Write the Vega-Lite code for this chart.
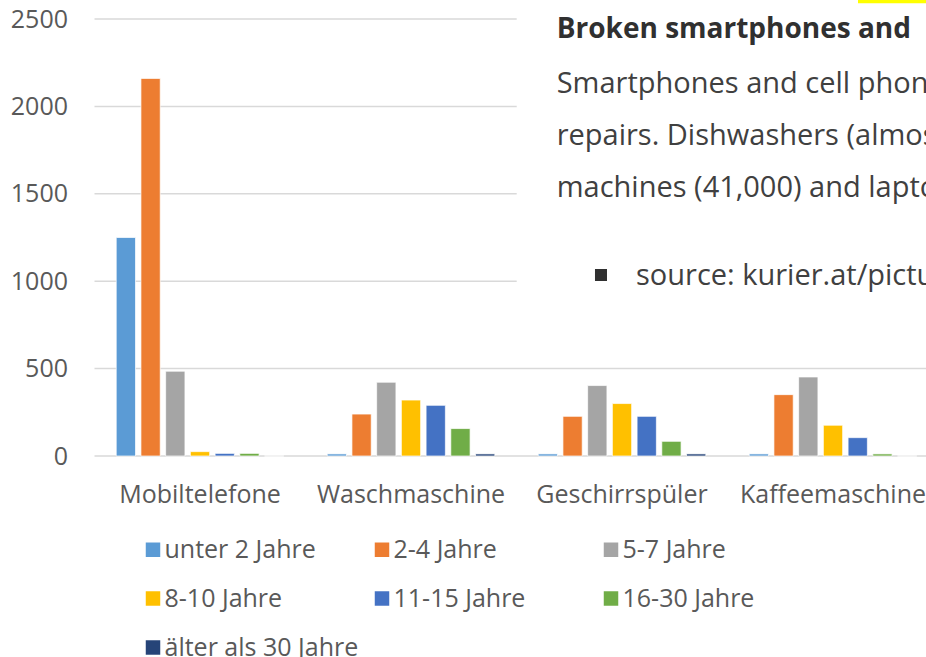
{
  "$schema": "https://vega.github.io/schema/vega-lite/v6.json",
  "width": 831.5,
  "height": 437,
  "autosize": {"type": "none"},
  "padding": {"left": 94.5, "top": 19, "right": 0, "bottom": 201},
  "background": "#ffffff",
  "config": {
    "view": {"stroke": null},
    "font": "Open Sans",
    "axis": {"labelFont": "Open Sans", "labelColor": "#595959", "labelFontSize": 25, "labelLimit": 400},
    "legend": {"labelFont": "Open Sans", "labelColor": "#595959", "labelFontSize": 25, "labelLimit": 400}
  },
  "datasets": {
    "bars": [
      {"category": "Mobiltelefone", "age": "unter 2 Jahre", "count": 1250},
      {"category": "Mobiltelefone", "age": "2-4 Jahre", "count": 2160},
      {"category": "Mobiltelefone", "age": "5-7 Jahre", "count": 485},
      {"category": "Mobiltelefone", "age": "8-10 Jahre", "count": 25},
      {"category": "Mobiltelefone", "age": "11-15 Jahre", "count": 15},
      {"category": "Mobiltelefone", "age": "16-30 Jahre", "count": 15},
      {"category": "Mobiltelefone", "age": "älter als 30 Jahre", "count": 0},
      {"category": "Waschmaschine", "age": "unter 2 Jahre", "count": 12},
      {"category": "Waschmaschine", "age": "2-4 Jahre", "count": 240},
      {"category": "Waschmaschine", "age": "5-7 Jahre", "count": 422},
      {"category": "Waschmaschine", "age": "8-10 Jahre", "count": 320},
      {"category": "Waschmaschine", "age": "11-15 Jahre", "count": 290},
      {"category": "Waschmaschine", "age": "16-30 Jahre", "count": 157},
      {"category": "Waschmaschine", "age": "älter als 30 Jahre", "count": 12},
      {"category": "Geschirrspüler", "age": "unter 2 Jahre", "count": 12},
      {"category": "Geschirrspüler", "age": "2-4 Jahre", "count": 227},
      {"category": "Geschirrspüler", "age": "5-7 Jahre", "count": 403},
      {"category": "Geschirrspüler", "age": "8-10 Jahre", "count": 300},
      {"category": "Geschirrspüler", "age": "11-15 Jahre", "count": 227},
      {"category": "Geschirrspüler", "age": "16-30 Jahre", "count": 84},
      {"category": "Geschirrspüler", "age": "älter als 30 Jahre", "count": 12},
      {"category": "Kaffeemaschine", "age": "unter 2 Jahre", "count": 12},
      {"category": "Kaffeemaschine", "age": "2-4 Jahre", "count": 351},
      {"category": "Kaffeemaschine", "age": "5-7 Jahre", "count": 452},
      {"category": "Kaffeemaschine", "age": "8-10 Jahre", "count": 176},
      {"category": "Kaffeemaschine", "age": "11-15 Jahre", "count": 105},
      {"category": "Kaffeemaschine", "age": "16-30 Jahre", "count": 12},
      {"category": "Kaffeemaschine", "age": "älter als 30 Jahre", "count": 0}
    ],
    "grid": [
      {"value": 0, "from": 0, "to": 3.9408},
      {"value": 500, "from": 0, "to": 3.9408},
      {"value": 1000, "from": 0, "to": 2.001},
      {"value": 1500, "from": 0, "to": 2.001},
      {"value": 2000, "from": 0, "to": 2.001},
      {"value": 2500, "from": 0, "to": 2.001}
    ],
    "title": [
      {"text": "Broken smartphones and", "xpos": 2.1905, "ypos": 2390}
    ],
    "notes": [
      {"text": "Smartphones and cell phon", "xpos": 2.1905, "ypos": 2078},
      {"text": "repairs. Dishwashers (almos", "xpos": 2.1905, "ypos": 1779},
      {"text": "machines (41,000) and lapto", "xpos": 2.1905, "ypos": 1483},
      {"text": "source: kurier.at/pictu", "xpos": 2.5664, "ypos": 978}
    ],
    "boxes": [
      {"x1": 2.372, "x2": 2.4289, "y1": 1001, "y2": 1070, "fillc": "#303030"},
      {"x1": 3.6185, "x2": 3.9408, "y1": 2590, "y2": 2609, "fillc": "#ffff00"}
    ]
  },
  "resolve": {"scale": {"x": "independent"}},
  "layer": [
    {
      "data": {"name": "grid"},
      "mark": {"type": "rule", "color": "#d9d9d9", "strokeWidth": 1.5},
      "encoding": {
        "x": {"field": "from", "type": "quantitative", "scale": {"domain": [0, 3.9408], "nice": false, "zero": false}, "axis": null},
        "x2": {"field": "to"},
        "y": {
          "field": "value", "type": "quantitative",
          "scale": {"domain": [0, 2500], "nice": false},
          "axis": {"title": null, "domain": false, "ticks": false, "grid": false, "format": "d", "values": [0, 500, 1000, 1500, 2000, 2500], "labelPadding": 27, "labelFontSize": 25}
        }
      }
    },
    {
      "data": {"name": "bars"},
      "mark": {"type": "bar", "stroke": "#ffffff", "strokeWidth": 1, "strokeOpacity": 0.7},
      "encoding": {
        "x": {
          "field": "category", "type": "nominal",
          "sort": ["Mobiltelefone", "Waschmaschine", "Geschirrspüler", "Kaffeemaschine"],
          "scale": {"paddingInner": 0.18, "paddingOuter": 0.0604, "align": 0.7457},
          "axis": {"title": null, "domain": false, "ticks": false, "labelAngle": 0, "labelBaseline": "alphabetic", "labelPadding": 46, "labelFontSize": 25, "labelLimit": 400}
        },
        "xOffset": {
          "field": "age", "type": "nominal",
          "sort": ["unter 2 Jahre", "2-4 Jahre", "5-7 Jahre", "8-10 Jahre", "11-15 Jahre", "16-30 Jahre", "älter als 30 Jahre"],
          "scale": {"paddingInner": 0.22, "paddingOuter": 0.11}
        },
        "y": {
          "field": "count", "type": "quantitative",
          "scale": {"domain": [0, 2500], "nice": false},
          "axis": {"title": null, "domain": false, "ticks": false, "grid": false, "format": "d", "values": [0, 500, 1000, 1500, 2000, 2500], "labelPadding": 27, "labelFontSize": 25}
        },
        "color": {
          "field": "age", "type": "nominal",
          "scale": {
            "domain": ["unter 2 Jahre", "2-4 Jahre", "5-7 Jahre", "8-10 Jahre", "11-15 Jahre", "16-30 Jahre", "älter als 30 Jahre"],
            "range": ["#5B9BD5", "#ED7D31", "#A5A5A5", "#FFC000", "#4472C4", "#70AD47", "#264478"]
          },
          "legend": {
            "title": null, "orient": "none", "legendX": 46, "legendY": 518, "direction": "horizontal",
            "columns": 3, "gridAlign": "all", "columnPadding": 11, "rowPadding": 23,
            "symbolType": "square", "symbolSize": 210, "symbolStrokeWidth": 0, "symbolOpacity": 1,
            "labelOffset": -1, "labelFontSize": 25, "labelLimit": 400, "padding": 0
          }
        }
      }
    },
    {
      "data": {"name": "boxes"},
      "mark": {"type": "rect"},
      "encoding": {
        "x": {"field": "x1", "type": "quantitative", "scale": {"domain": [0, 3.9408], "nice": false, "zero": false}, "axis": null},
        "x2": {"field": "x2"},
        "y": {"field": "y1", "type": "quantitative", "scale": {"domain": [0, 2500], "nice": false}},
        "y2": {"field": "y2"},
        "fill": {"field": "fillc", "type": "nominal", "scale": null}
      }
    },
    {
      "data": {"name": "title"},
      "mark": {"type": "text", "align": "left", "baseline": "alphabetic", "fontSize": 28, "font": "Open Sans", "fontWeight": "bold", "color": "#303030"},
      "encoding": {
        "x": {"field": "xpos", "type": "quantitative", "scale": {"domain": [0, 3.9408], "nice": false, "zero": false}, "axis": null},
        "y": {"field": "ypos", "type": "quantitative", "scale": {"domain": [0, 2500], "nice": false}},
        "text": {"field": "text"}
      }
    },
    {
      "data": {"name": "notes"},
      "mark": {"type": "text", "align": "left", "baseline": "alphabetic", "fontSize": 29, "font": "Open Sans", "color": "#404040"},
      "encoding": {
        "x": {"field": "xpos", "type": "quantitative", "scale": {"domain": [0, 3.9408], "nice": false, "zero": false}, "axis": null},
        "y": {"field": "ypos", "type": "quantitative", "scale": {"domain": [0, 2500], "nice": false}},
        "text": {"field": "text"}
      }
    }
  ]
}
